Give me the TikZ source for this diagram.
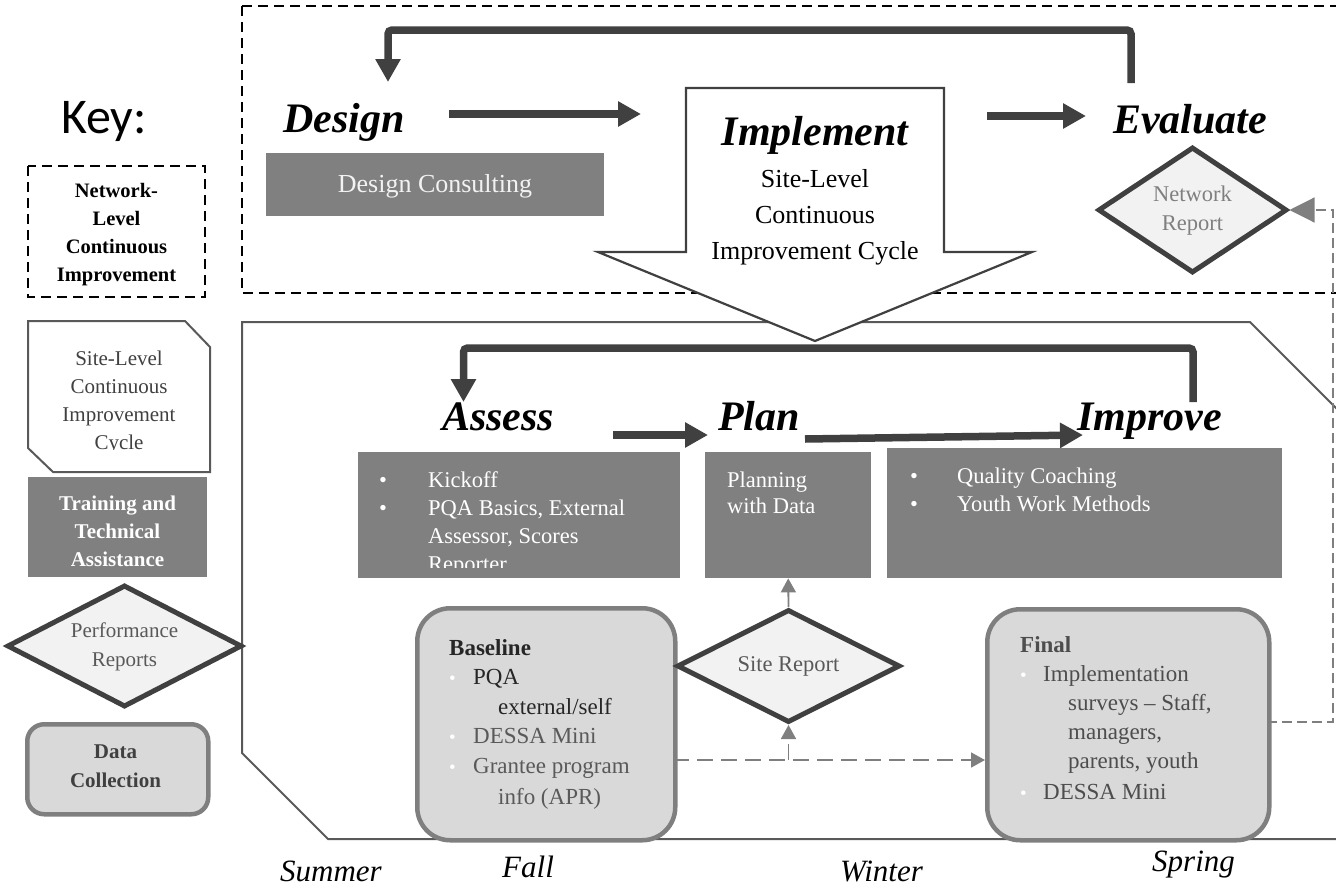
\documentclass[tikz,border=0pt]{standalone}
\usepackage{fontspec}
\setmainfont{Liberation Serif}
\newfontfamily\keyfont{Carlito}
\usetikzlibrary{arrows.meta,shapes.geometric}
\definecolor{dk}{HTML}{404040}
\definecolor{midg}{HTML}{7F7F7F}
\definecolor{boxg}{HTML}{808080}
\definecolor{lightf}{HTML}{F2F2F2}
\definecolor{dcfill}{HTML}{D9D9D9}
\definecolor{shapeg}{HTML}{595959}
\definecolor{txtg}{HTML}{595959}
\definecolor{nearblk}{HTML}{262626}
\definecolor{fintxt}{HTML}{4D4D4D}
\newcommand\wbul[1]{\makebox[#1][l]{\color{white}\fontsize{19}{19}\selectfont\textbullet}}
\newcommand\bbul[1]{\makebox[#1][l]{\textbullet}}
\tikzset{
  netdash/.style={draw=black, line width=2.5pt, dash pattern=on 10pt off 6pt},
  shapeline/.style={draw=shapeg, line width=2pt},
  bigarrow/.style={draw=dk, line width=7.5pt, -{Triangle[length=23pt,width=24pt]}},
  looparrow/.style={bigarrow, rounded corners=4pt},
  dashconn/.style={draw=midg, line width=1.8pt, dash pattern=on 16pt off 8pt, -{Triangle[length=14pt,width=15pt]}},
  thindash/.style={draw=midg, line width=1.2pt, dash pattern=on 10pt off 5pt, -{Triangle[length=25pt,width=25pt]}},
  phase/.style={font=\fontsize{42}{46}\selectfont\bfseries\itshape, inner sep=0, anchor=base west},
  season/.style={font=\fontsize{31}{34}\selectfont\itshape, inner sep=0, anchor=base west},
  tatbox/.style={fill=boxg, draw=none, inner sep=0, anchor=north west},
  report/.style={shape=diamond, draw=dk, line width=5pt, fill=lightf, inner sep=0, text=txtg, font=\fontsize{22.5}{29}\selectfont},
  datacol/.style={draw=midg, line width=4.5pt, fill=dcfill, inner sep=0, anchor=north west},
  body/.style={font=\fontsize{22.5}{28}\selectfont, inner sep=0, anchor=base west},
  keytxt/.style={font=\fontsize{21}{28}\selectfont, inner sep=0, anchor=base},
}
\begin{document}
\begin{tikzpicture}[x=1pt,y=-1pt]
\useasboundingbox (0,0) rectangle (1336,886);

% ---------- network level frame ----------
\draw[netdash] (242,6) rectangle (1352,293);

% ---------- site level frame ----------
\draw[shapeline] (1352,424) -- (1250,322) -- (242,322) -- (242,753) -- (328,839) -- (1352,839);

% ---------- implement block arrow ----------
\draw[draw=dk, line width=2.2pt, fill=white] (686,88) -- (944,88) -- (944,252) -- (1032,252) -- (815,341) -- (598,252) -- (686,252) -- cycle;
\node[inner sep=0, anchor=base, font=\fontsize{26}{36}\selectfont] (impl) at (815,145)
  {\begin{tabular}[t]{@{}c@{}}{\fontsize{42}{46}\selectfont\bfseries\itshape Implement}\\[6pt]
   Site-Level\\ Continuous\\ Improvement Cycle\end{tabular}};

% ---------- key ----------
\node[font=\keyfont\fontsize{50}{58}\selectfont, anchor=base west, inner sep=0] (key) at (61,133) {Key:};

\draw[netdash] (28,166) rectangle (205,297);
\node[keytxt, font=\fontsize{20.5}{28}\selectfont\bfseries] (keynet) at (116.5,197)
  {\begin{tabular}[t]{@{}c@{}}Network-\\Level\\Continuous\\Improvement\end{tabular}};

\draw[shapeline] (28,321) -- (185,321) -- (210,347) -- (210,472) -- (53,472) -- (28,448) -- cycle;
\begin{scope}
  \clip (28,321) rectangle (210,449.8);
  \node[keytxt, text=dk] (keysite) at (119,365)
    {\begin{tabular}[t]{@{}c@{}}Site-Level\\Continuous\\Improvement\\Cycle\end{tabular}};
\end{scope}

\node[tatbox, minimum width=179pt, minimum height=100pt] (keytta) at (28,477) {};
\begin{scope}
  \clip (28,477) rectangle (207,566);
  \node[keytxt, text=white, font=\fontsize{21}{28}\selectfont\bfseries] (keyttatxt) at (117.5,510)
    {\begin{tabular}[t]{@{}c@{}}Training and\\Technical\\Assistance\end{tabular}};
\end{scope}

\node[report, aspect=1.93, minimum width=235pt, minimum height=122pt, font=\fontsize{21}{29}\selectfont] (keyperf) at (124.5,646)
  {\begin{tabular}{@{}c@{}}Performance\\Reports\end{tabular}};

\node[datacol, rounded corners=17pt, minimum width=181pt, minimum height=90pt] (keydc) at (25,722) {};
\node[keytxt, text=dk, font=\fontsize{21}{29}\selectfont\bfseries] (keydctxt) at (115.5,758)
  {\begin{tabular}[t]{@{}c@{}}Data\\Collection\end{tabular}};

% ---------- network level: design / evaluate ----------
\node[phase] (design) at (283,132) {Design};
\node[phase] (evaluate) at (1113,133) {Evaluate};

\node[tatbox, minimum width=338pt, minimum height=63pt] (dcons) at (266,153) {};
\node[inner sep=0, anchor=base, text=lightf, font=\fontsize{26}{30}\selectfont] (dconstxt) at (435,192) {Design Consulting};

\node[report, aspect=1.5, minimum width=189pt, minimum height=126pt, text=midg] (netrep) at (1192.5,210)
  {\begin{tabular}{@{}c@{}}Network\\Report\end{tabular}};

\coordinate (dsgnout) at (449,114);
\coordinate (implin) at (641,114);
\coordinate (implout) at (987,116);
\coordinate (evalin) at (1086,116);
\draw[bigarrow] (dsgnout) -- (implin);
\draw[bigarrow] (implout) -- (evalin);

\coordinate (evaltop) at (1131,83);
\coordinate (designtop) at (388,82);
\draw[looparrow] (evaltop) -- ++(0,-53) -| (designtop);

% ---------- site level: assess / plan / improve ----------
\node[phase] (assess) at (442,430) {Assess};
\node[phase] (plan) at (718,430) {Plan};
\node[phase] (improve) at (1077,430) {Improve};

\coordinate (imptop) at (1193,402);
\coordinate (asstop) at (463.5,402);
\draw[looparrow] (imptop) -- ++(0,-54) -| (asstop);

\coordinate (assout) at (613,435);
\coordinate (planin) at (708,435);
\coordinate (planout) at (805,439);
\coordinate (impin) at (1083,435);
\draw[bigarrow] (assout) -- (planin);
\draw[bigarrow] (planout) -- (impin);

\node[tatbox, minimum width=322pt, minimum height=126pt] (assbox) at (358,452) {};
\begin{scope}
  \clip (358,452) rectangle (680,567);
  \node[body, text=white] (asstxt) at (379,487)
    {\begin{tabular}[t]{@{}l@{}}\bbul{49pt}Kickoff\\ \bbul{49pt}PQA Basics, External\\
     \hspace*{49pt}Assessor, Scores\\ \hspace*{49pt}Reporter\end{tabular}};
\end{scope}

\node[tatbox, minimum width=166pt, minimum height=126pt] (planbox) at (705,452) {};
\node[body, text=white, font=\fontsize{22.5}{26}\selectfont] (plantxt) at (727,487)
  {\begin{tabular}[t]{@{}l@{}}Planning\\with Data\end{tabular}};

\node[tatbox, minimum width=395pt, minimum height=130pt] (impbox) at (887,448) {};
\node[body, text=white] (imptxt) at (910,483)
  {\begin{tabular}[t]{@{}l@{}}\bbul{47pt}Quality Coaching\\ \bbul{47pt}Youth Work Methods\end{tabular}};

% ---------- data collection ----------
\node[datacol, rounded corners=33pt, minimum width=258pt, minimum height=232pt] (baseline) at (415,606) {};
\node[body, font=\fontsize{23}{29.5}\selectfont] (basetxt) at (449,655)
  {\begin{tabular}[t]{@{}l@{}}\color{nearblk}\bfseries Baseline\\
   \color{nearblk}\wbul{24pt}PQA\\
   \color{nearblk}\hspace*{49pt}external/self\\
   \color{txtg}\wbul{24pt}DESSA Mini\\
   \color{txtg}\wbul{24pt}Grantee program\\[2pt]
   \color{txtg}\hspace*{49pt}info (APR)\end{tabular}};

\node[datacol, rounded corners=33pt, minimum width=282pt, minimum height=231pt] (final) at (985,607) {};
\node[body, font=\fontsize{23}{29}\selectfont, text=fintxt] (finaltxt) at (1020,652)
  {\begin{tabular}[t]{@{}l@{}}\bfseries Final\\
   \wbul{23pt}Implementation\\
   \hspace*{48pt}surveys -- Staff,\\
   \hspace*{48pt}managers,\\
   \hspace*{48pt}parents, youth\\[2pt]
   \wbul{23pt}DESSA Mini\end{tabular}};

\node[report, aspect=2, minimum width=223pt, minimum height=113pt] (siterep) at (788.5,666) {Site Report};

\coordinate (baseout) at (673,760);
\coordinate (finalin) at (985,760);
\coordinate (junct) at (788.5,760);
\draw[dashconn] (baseout) -- (finalin);
\draw[dashconn] (junct) -- (siterep.south);
\draw[dashconn] (siterep.north) -- (planbox.south);

\coordinate (finalout) at (1267,722);
\coordinate (rightcorner) at (1333,210);
\draw[thindash] (finalout) -| (rightcorner) -- (netrep.east);

% ---------- seasons ----------
\node[season] (summer) at (280,881) {Summer};
\node[season] (fall) at (502,877) {Fall};
\node[season] (winter) at (840,881) {Winter};
\node[season] (spring) at (1152,871) {Spring};
\end{tikzpicture}
\end{document}
